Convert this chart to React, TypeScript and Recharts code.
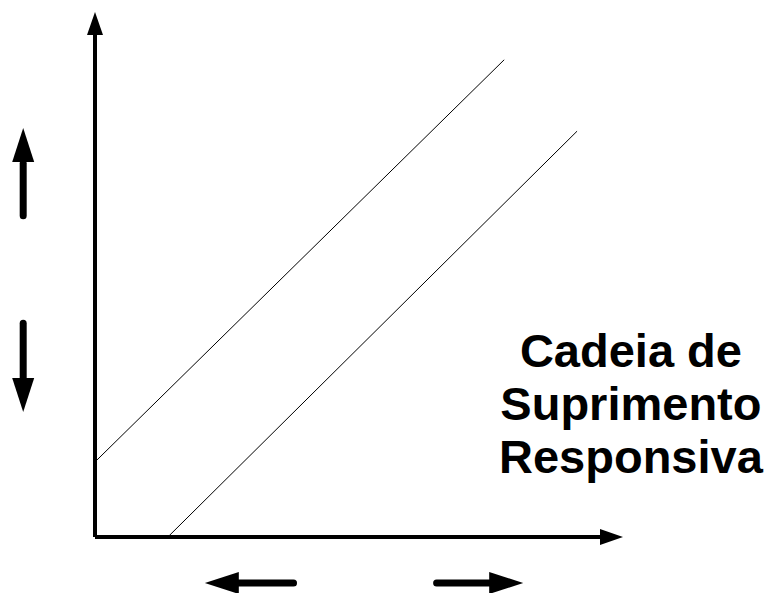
import React from "react";
import { LineChart, Line, XAxis, YAxis, ReferenceLine, ReferenceDot } from "recharts";

// Diagonal curves (data units, axes 0..100)
const upperLine = [
  { x: 0, y: 14.3 },
  { x: 77.5, y: 90.9 },
];
const lowerLine = [
  { x: 14.0, y: 0.2 },
  { x: 91.3, y: 77.3 },
];

// Axes (drawn as arrows from origin)
const axisSegments = [
  { from: { x: 0, y: 0 }, to: { x: 0, y: 95.6 } },
  { from: { x: 0, y: 0 }, to: { x: 95.8, y: 0 } },
];
const axisHeads = [
  { x: 0, y: 100, dir: "up" },
  { x: 100, y: 0, dir: "right" },
];

// Indicator arrows
const indicatorShafts = [
  { from: { x: -13.6, y: 61.2 }, to: { x: -13.6, y: 71.2 } },
  { from: { x: -13.6, y: 40.7 }, to: { x: -13.6, y: 30.3 } },
  { from: { x: 37.6, y: -8.76 }, to: { x: 27.1, y: -8.76 } },
  { from: { x: 64.7, y: -8.76 }, to: { x: 75.2, y: -8.76 } },
];
const indicatorHeads = [
  { x: -13.6, y: 77.9, dir: "up" },
  { x: -13.6, y: 23.8, dir: "down" },
  { x: 20.8, y: -8.76, dir: "left" },
  { x: 81.1, y: -8.76, dir: "right" },
];

const titleLines = ["Cadeia de", "Suprimento", "Responsiva"];
const titleAnchor = { x: 101.5, y: 32.4 };

function makeHead(len: number, half: number, dir: string) {
  return (props: any) => {
    const { cx, cy } = props;
    let pts = "";
    if (dir === "up") pts = `${cx},${cy} ${cx - half},${cy + len} ${cx + half},${cy + len}`;
    if (dir === "down") pts = `${cx},${cy} ${cx - half},${cy - len} ${cx + half},${cy - len}`;
    if (dir === "left") pts = `${cx},${cy} ${cx + len},${cy - half} ${cx + len},${cy + half}`;
    if (dir === "right") pts = `${cx},${cy} ${cx - len},${cy - half} ${cx - len},${cy + half}`;
    return <polygon points={pts} fill="#000" stroke="none" />;
  };
}

const titleShape = (props: any) => {
  const { cx, cy } = props;
  return (
    <text
      x={cx}
      y={cy}
      textAnchor="middle"
      fontFamily="'Liberation Sans', Arial, sans-serif"
      fontWeight="bold"
      fontSize={47}
      fill="#000"
    >
      {titleLines.map((t, i) => (
        <tspan key={t} x={cx} dy={i === 0 ? 0 : 53}>
          {t}
        </tspan>
      ))}
    </text>
  );
};

export default function App() {
  return (
    <div style={{ position: "absolute", left: 0, top: 0, background: "#fff" }}>
      <LineChart
        width={767}
        height={593}
        margin={{ top: 12, right: 144, bottom: 56, left: 95 }}
      >
        <XAxis type="number" dataKey="x" domain={[0, 100]} hide allowDataOverflow />
        <YAxis type="number" dataKey="y" domain={[0, 100]} hide allowDataOverflow />
        <Line
          data={upperLine}
          dataKey="y"
          stroke="#000"
          strokeWidth={1}
          dot={false}
          isAnimationActive={false}
        />
        <Line
          data={lowerLine}
          dataKey="y"
          stroke="#000"
          strokeWidth={1}
          dot={false}
          isAnimationActive={false}
        />
        {axisSegments.map((s, i) => (
          <ReferenceLine
            key={"ax" + i}
            segment={[s.from, s.to]}
            stroke="#000"
            strokeWidth={4}
            ifOverflow="visible"
          />
        ))}
        {axisHeads.map((h, i) => (
          <ReferenceDot
            key={"ah" + i}
            x={h.x}
            y={h.y}
            r={1}
            ifOverflow="visible"
            shape={makeHead(23, 8, h.dir)}
          />
        ))}
        {indicatorShafts.map((s, i) => (
          <ReferenceLine
            key={"is" + i}
            segment={[s.from, s.to]}
            stroke="#000"
            strokeWidth={7}
            strokeLinecap="round"
            ifOverflow="visible"
          />
        ))}
        {indicatorHeads.map((h, i) => (
          <ReferenceDot
            key={"ih" + i}
            x={h.x}
            y={h.y}
            r={1}
            ifOverflow="visible"
            shape={makeHead(34, 11, h.dir)}
          />
        ))}
        <ReferenceDot
          x={titleAnchor.x}
          y={titleAnchor.y}
          r={1}
          ifOverflow="visible"
          shape={titleShape}
        />
      </LineChart>
    </div>
  );
}
